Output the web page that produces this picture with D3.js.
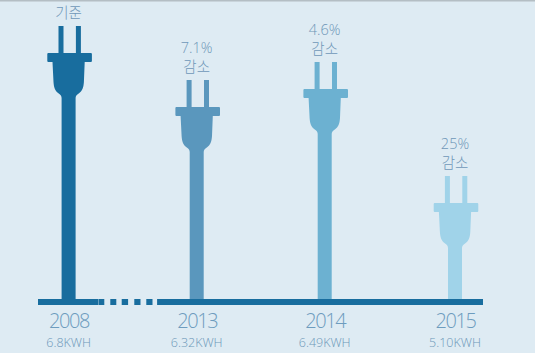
<!DOCTYPE html>
<html>
<head>
<meta charset="utf-8">
<script src="https://cdn.jsdelivr.net/npm/d3@7"></script>
<style>
  html, body { margin: 0; padding: 0; background: #deebf3; overflow: hidden; }
  text { font-family: "Noto Sans CJK KR", "Open Sans", sans-serif; font-weight: 300; }
</style>
</head>
<body>
<div class="chart"></div>
<script>
// chart data
const years = ['2008', '2013', '2014', '2015']
const kwh = [6.8, 6.32, 6.49, 5.10]
const kwhLabels = ['6.8KWH', '6.32KWH', '6.49KWH', '5.10KWH']
const changeLabels = [[], ['7.1%'], ['4.6%'], ['25%']]
const changeWords = ['기준', '감소', '감소', '감소']
const colors = ['#186d9e', '#5a97bd', '#6cb1d1', '#a0d3e9']

const width = 535
const height = 353
const baseY = 302

const svg = d3.select('.chart')
  .append('svg')
    .attr('width', width)
    .attr('height', height)
    .style('display', 'block')

svg.append('rect')
  .attr('width', width)
  .attr('height', 1.5)
  .attr('fill', '#b4bec4')

const xScale = d3.scaleOrdinal()
  .domain(years)
  .range([68.6, 196.7, 324.7, 455])

// plug heights in the picture are not proportional, so the scale goes through each reading
const yScale = d3.scaleLinear()
  .domain([5.10, 6.32, 6.49, 6.8])
  .range([176, 80, 62, 26])

// plug outline, y measured down from the prong tips, x from the plug centre
const plugPath = (h) => `
  M-11.2,0 h5 v27 h12.4 v-27 h5 v27
  h10 q1,0 1,1 v7 q0,1 -1,1 h-6.2
  L14.2,56 C13.8,62 12.6,65 9,67.5 C7,69 5.9,70 5.9,72
  V${h} h-14 V72
  C-8.1,70 -9,69 -11,67.5 C-14.6,65 -15.8,62 -16.2,56
  L-17.2,36 h-4.2 q-1,0 -1,-1 v-7 q0,-1 1,-1 h10.2 Z`

// stem is slightly left of the plug head
svg.selectAll('.plug')
  .data(years)
  .join('path')
    .attr('class', 'plug')
    .attr('transform', (d, i) => `translate(${xScale(d) + 1.1}, ${yScale(kwh[i])})`)
    .attr('d', (d, i) => plugPath(baseY - yScale(kwh[i])))
    .attr('fill', (d, i) => colors[i])

// baseline, broken between 2008 and 2013
svg.append('line')
  .attr('x1', 38)
  .attr('x2', 483)
  .attr('y1', baseY)
  .attr('y2', baseY)
  .attr('stroke', '#186d9e')
  .attr('stroke-width', 6)
  .attr('stroke-dasharray', '60.3 0.4 5.6 6 6 5.4 6.4 6.2 6.2 5.8 6.2 4.6 340')

const xAxis = d3.axisBottom(xScale).tickSize(0).tickPadding(0)
const axisG = svg.append('g')
  .attr('transform', `translate(0, ${baseY})`)
  .call(xAxis)
axisG.select('.domain').remove()
axisG.selectAll('.tick text')
  .attr('y', 26)
  .attr('dy', 0)
  .attr('font-size', 20)
  .attr('letter-spacing', -1.4)
  .style('font-family', '"Open Sans", sans-serif')
  .attr('fill', '#6d9cbe')

svg.selectAll('.kwh')
  .data(kwhLabels)
  .join('text')
    .attr('class', 'kwh')
    .attr('x', (d, i) => xScale(years[i]))
    .attr('y', 346.5)
    .attr('text-anchor', 'middle')
    .attr('font-size', 12.5)
    .style('font-family', '"Open Sans", sans-serif')
    .attr('fill', '#6d98b9')
    .text(d => d)

// notes above each plug
years.forEach((year, i) => {
  const top = yScale(kwh[i])
  const single = changeLabels[i].length === 0
  svg.append('text')
    .attr('x', xScale(year))
    .attr('y', top - (single ? 8.5 : 8))
    .attr('text-anchor', 'middle')
    .attr('font-size', 14.5)
    .attr('fill', '#6f97b8')
    .text(changeWords[i])
  changeLabels[i].forEach(label => {
    svg.append('text')
      .attr('x', xScale(year))
      .attr('y', top - 27.5)
      .attr('text-anchor', 'middle')
      .attr('font-size', 14.5)
      .style('font-family', '"Open Sans", sans-serif')
      .attr('fill', '#6f97b8')
      .text(label)
  })
})
</script>
</body>
</html>
